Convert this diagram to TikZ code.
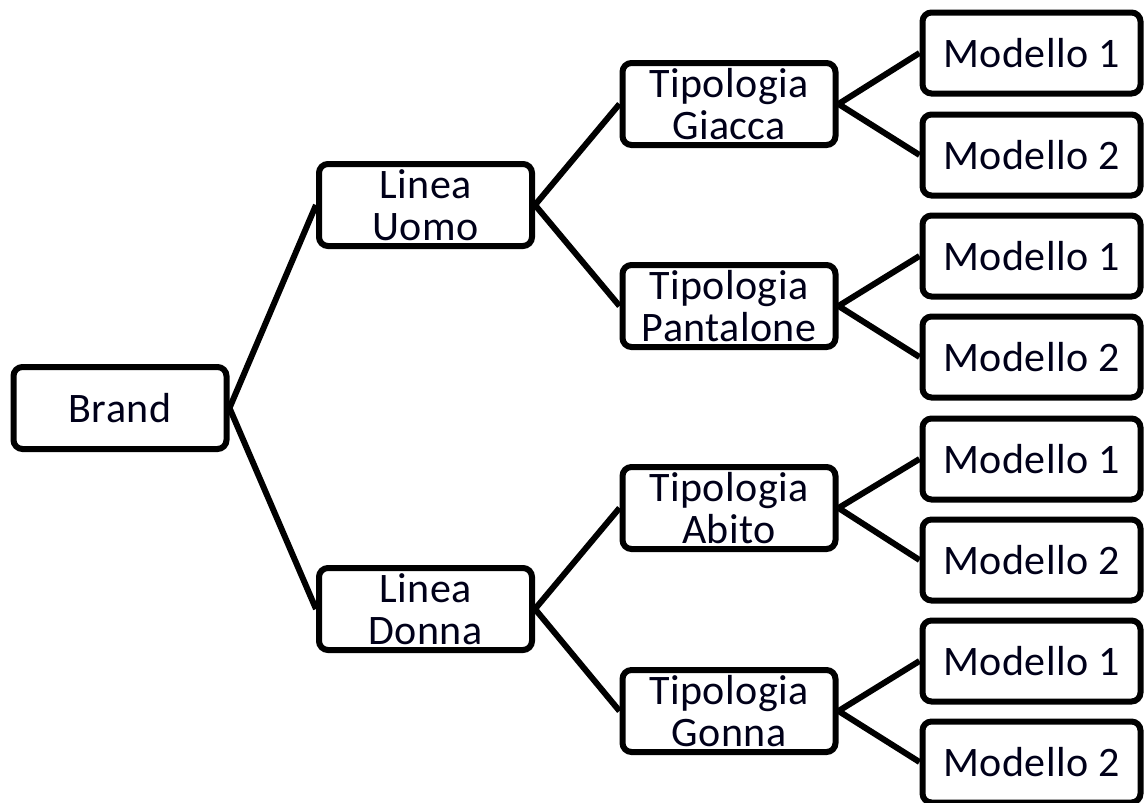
\documentclass[tikz,border=0pt]{standalone}
\usepackage{fontspec}
\setmainfont{Carlito}[LetterSpace=1]
\begin{document}
\begin{tikzpicture}[x=1pt,y=-1pt,
  box/.style={draw=black,line width=6pt,rounded corners=9pt,fill=white,
    align=center,inner sep=0pt,minimum width=213pt,minimum height=82pt,
    font=\fontsize{42}{42}\selectfont,text=black!90!blue},
  leaf/.style={box,minimum width=218pt,minimum height=81pt},
  link/.style={line width=6pt,draw=black}]
\useasboundingbox (0,0) rectangle (1146,803);
% root, lines, types, models
\node[box] (brand) at (120,408) {Brand};
\node[box] (uomo) at (425.5,205) {Linea\\Uomo};
\node[box] (donna) at (425.5,609) {Linea\\Donna};
\node[box] (giacca) at (729,104) {Tipologia\\Giacca};
\node[box] (pantalone) at (729,306) {Tipologia\\Pantalone};
\node[box] (abito) at (729,508) {Tipologia\\Abito};
\node[box] (gonna) at (729,711) {Tipologia\\Gonna};
\node[leaf] (m1) at (1031.5,53) {Modello 1};
\node[leaf] (m2) at (1031.5,155) {Modello 2};
\node[leaf] (m3) at (1031.5,256) {Modello 1};
\node[leaf] (m4) at (1031.5,357) {Modello 2};
\node[leaf] (m5) at (1031.5,459) {Modello 1};
\node[leaf] (m6) at (1031.5,560) {Modello 2};
\node[leaf] (m7) at (1031.5,661) {Modello 1};
\node[leaf] (m8) at (1031.5,762) {Modello 2};
% connectors
\draw[link] (brand.east) -- (uomo.west);
\draw[link] (brand.east) -- (donna.west);
\draw[link] (uomo.east) -- (giacca.west);
\draw[link] (uomo.east) -- (pantalone.west);
\draw[link] (donna.east) -- (abito.west);
\draw[link] (donna.east) -- (gonna.west);
\draw[link] (giacca.east) -- (m1.west);
\draw[link] (giacca.east) -- (m2.west);
\draw[link] (pantalone.east) -- (m3.west);
\draw[link] (pantalone.east) -- (m4.west);
\draw[link] (abito.east) -- (m5.west);
\draw[link] (abito.east) -- (m6.west);
\draw[link] (gonna.east) -- (m7.west);
\draw[link] (gonna.east) -- (m8.west);
\end{tikzpicture}
\end{document}
